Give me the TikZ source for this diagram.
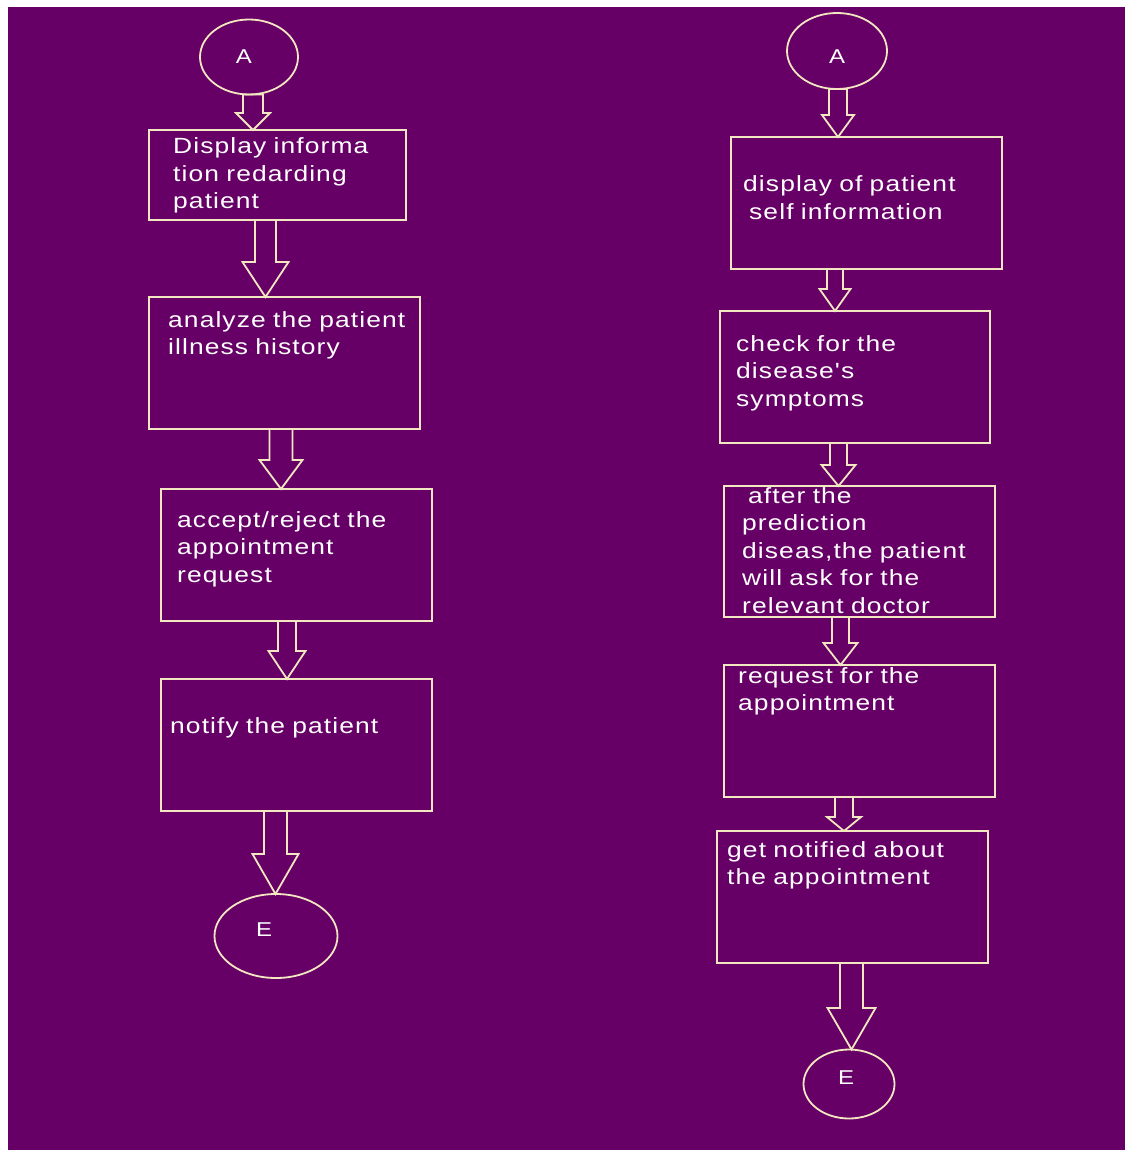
\documentclass[tikz,border=0pt]{standalone}
\usepackage{fontspec}
\newfontfamily\flowfont{Liberation Sans}[FakeStretch=1.2,LetterSpace=5]
\usetikzlibrary{shapes.geometric}
\definecolor{plum}{RGB}{102,0,102}
\definecolor{cream}{RGB}{243,231,193}
\tikzset{
  stepbox/.style={draw=cream,line width=2.2pt,inner sep=0pt,outer sep=0pt,minimum width=271pt,minimum height=132pt},
  endpt/.style={draw=cream,ellipse,line width=1.8pt,inner sep=0pt,outer sep=0pt},
  boxtxt/.style={text=white,anchor=base west,align=left,text width=300pt,inner sep=0pt,font=\flowfont\fontsize{22}{27.5}\selectfont},
  endtxt/.style={text=white,inner sep=0pt,font=\flowfont\fontsize{20}{24}\selectfont},
  fatline/.style={draw=cream,line width=1.8pt,line join=miter}
}
\newcommand{\fatarrow}[6]{%
  \draw[fatline] (#3-#4,0 |- #1.south) -- (#3-#4,#6) -- (#3-#5,#6) -- (#3,0 |- #2.north) -- (#3+#5,#6) -- (#3+#4,#6) -- (#3+#4,0 |- #1.south) -- cycle;}
\begin{document}
\begin{tikzpicture}[x=1pt,y=-1pt]
\useasboundingbox (0,0) rectangle (1125,1150);
\fill[white] (0,0) rectangle (1125,1150);
\fill[plum] (8,7) rectangle (1125,1150);

\node[endpt,minimum width=98pt,minimum height=75pt,label={[endtxt,xshift=-5pt]center:A}] (a1) at (249,57) {};
\node[stepbox,minimum width=257pt,minimum height=90pt] (b1) at (277.5,175) {};
\node[stepbox] (b2) at (284.5,363) {};
\node[stepbox] (b3) at (296.5,555) {};
\node[stepbox] (b4) at (296.5,745) {};
\node[endpt,minimum width=123pt,minimum height=84pt,label={[endtxt,xshift=-12pt,yshift=6pt]center:E}] (e1) at (276,936) {};

\node[endpt,minimum width=100pt,minimum height=76pt,label={[endtxt,yshift=-6pt]center:A}] (a2) at (837,51) {};
\node[stepbox] (r1) at (866.5,203) {};
\node[stepbox,minimum width=270pt] (r2) at (855,377) {};
\node[stepbox,minimum height=131pt] (r3) at (859.5,551.5) {};
\node[stepbox] (r4) at (859.5,731) {};
\node[stepbox] (r5) at (852.5,897) {};
\node[endpt,minimum width=91pt,minimum height=69pt,label={[endtxt,xshift=-3pt,yshift=6pt]center:E}] (e2) at (849,1084) {};

\node[boxtxt] (b1t) at (173,154) {Display informa\\tion redarding\\patient};
\node[boxtxt] (b2t) at (168,327) {analyze the patient\\illness history};
\node[boxtxt] (b3t) at (177,527) {accept/reject the\\appointment\\request};
\node[boxtxt] (b4t) at (170,733) {notify the patient};
\node[boxtxt] (r1t) at (743,192) {display of patient\\\hspace*{6pt}self information};
\node[boxtxt] (r2t) at (736,351) {check for the\\disease's\\symptoms};
\node[boxtxt] (r3t) at (742,503) {\hspace*{6pt}after the\\prediction\\diseas,the patient\\will ask for the\\relevant doctor};
\node[boxtxt] (r4t) at (738,683) {request for the\\appointment};
\node[boxtxt] (r5t) at (727,857) {get notified about\\the appointment};

\fatarrow{a1}{b1}{253}{10}{17}{113}
\fatarrow{b1}{b2}{265.5}{10.5}{23}{262}
\fatarrow{b2}{b3}{281}{11.5}{21.5}{460}
\fatarrow{b3}{b4}{287}{9}{18.5}{651}
\fatarrow{b4}{e1}{275.5}{11.5}{23}{854}
\fatarrow{a2}{r1}{838}{9}{16}{115}
\fatarrow{r1}{r2}{835}{8}{15.5}{289}
\fatarrow{r2}{r3}{838.5}{8.5}{17}{465}
\fatarrow{r3}{r4}{840.5}{8.5}{17}{643}
\fatarrow{r4}{r5}{844}{9}{17}{817}
\fatarrow{r5}{e2}{851.5}{11.5}{24}{1008}
\end{tikzpicture}
\end{document}
